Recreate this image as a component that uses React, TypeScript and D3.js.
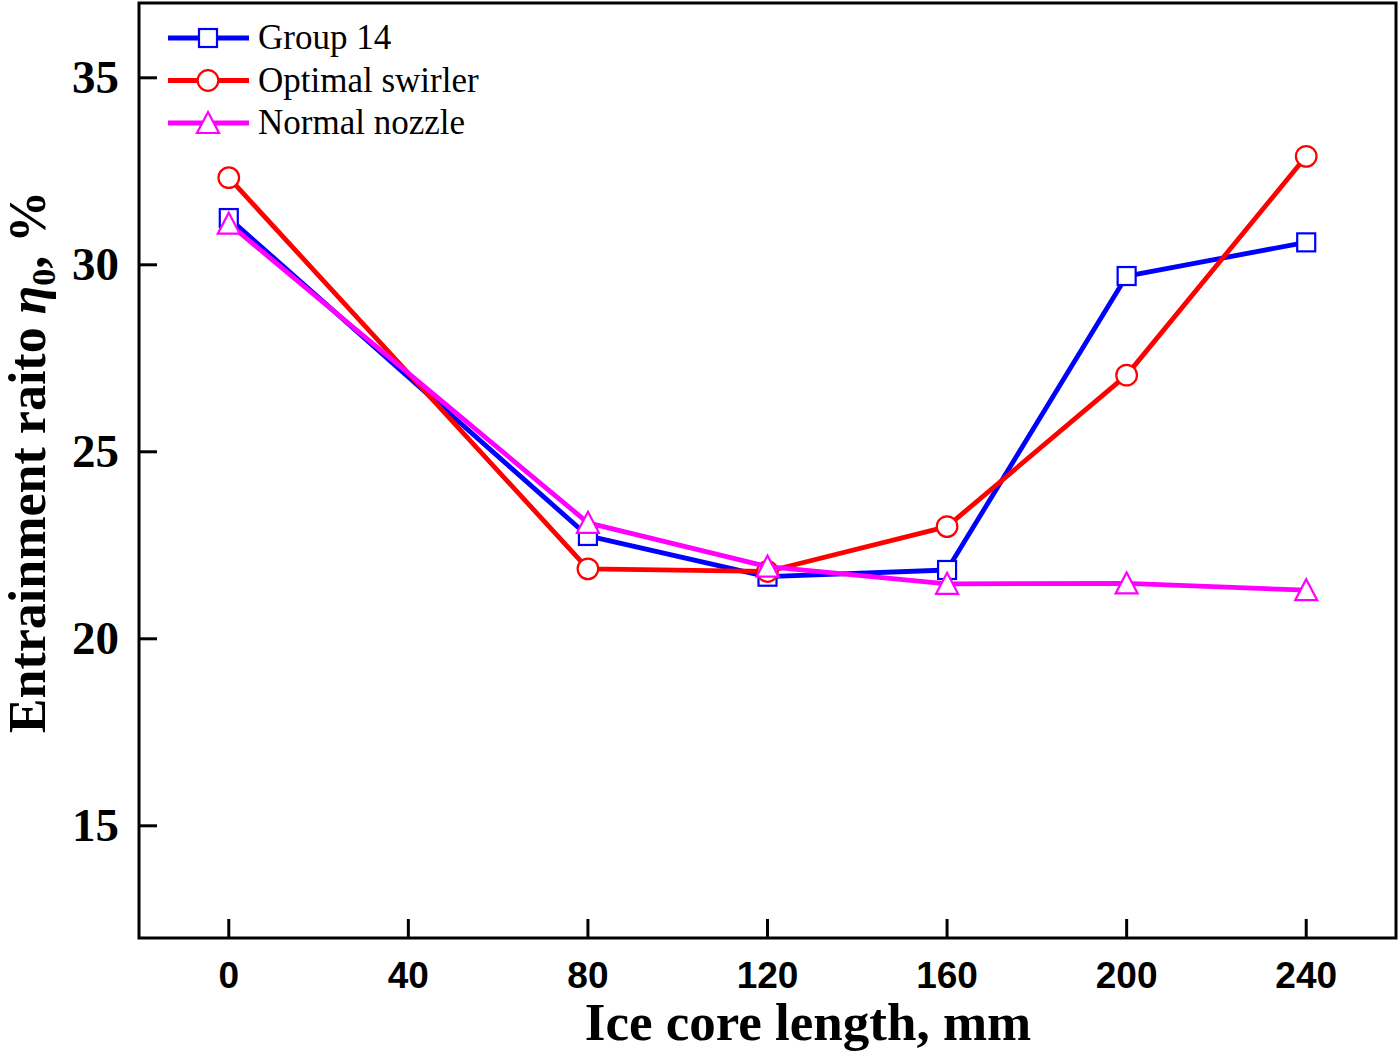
import React from "react"
import * as d3 from "d3"

// ice core length, mm
const lengths = [0, 80, 120, 160, 200, 240]

// entrainment ratio, %
const group14 = [31.25, 22.75, 21.66, 21.84, 29.7, 30.6]
const optimalSwirler = [32.33, 21.87, 21.8, 23.0, 27.05, 32.9]
const normalNozzle = [31.1, 23.1, 21.93, 21.47, 21.48, 21.3]

const xTicks = [0, 40, 80, 120, 160, 200, 240]
const yTicks = [15, 20, 25, 30, 35]

type Shape = "square" | "circle" | "triangle"

interface Series {
    name: string
    values: number[]
    color: string
    shape: Shape
}

const series: Series[] = [
    { name: "Group 14", values: group14, color: "#0000ff", shape: "square" },
    { name: "Optimal swirler", values: optimalSwirler, color: "#ff0000", shape: "circle" },
    { name: "Normal nozzle", values: normalNozzle, color: "#ff00ff", shape: "triangle" },
]

const W = 1400
const H = 1058
const left = 139
const right = 1396
const top = 3
const bottom = 938

const serif = "'Liberation Serif', 'Times New Roman', serif"
const sans = "'Liberation Sans', Arial, sans-serif"

const Marker = ({ shape, cx, cy, color }: { shape: Shape; cx: number; cy: number; color: string }) => {
    if (shape === "square") {
        return <rect x={cx - 9} y={cy - 9} width={18} height={18} fill="#fff" stroke={color} strokeWidth={2.2} />
    }
    if (shape === "circle") {
        return <circle cx={cx} cy={cy} r={10.3} fill="#fff" stroke={color} strokeWidth={2.2} />
    }
    const pts = [
        [cx, cy - 11],
        [cx + 11, cy + 10],
        [cx - 11, cy + 10],
    ]
    return <polygon points={pts.map((p) => p.join(",")).join(" ")} fill="#fff" stroke={color} strokeWidth={2.2} />
}

export default function App() {
    const x = d3.scaleLinear().domain([-20, 260]).range([left, right])
    const y = d3.scaleLinear().domain([12, 37]).range([bottom, top])

    const line = d3
        .line<number>()
        .x((_, i) => x(lengths[i]))
        .y((d) => y(d))

    return (
        <svg width={W} height={H} style={{ position: "absolute", left: 0, top: 0, background: "#fff" }}>
            {/* frame */}
            <rect x={left} y={top} width={right - left} height={bottom - top} fill="none" stroke="#000" strokeWidth={3} />

            {/* x ticks */}
            {xTicks.map((t) => (
                <g key={"x" + t}>
                    <line x1={x(t)} x2={x(t)} y1={bottom} y2={bottom - 19} stroke="#000" strokeWidth={3} />
                    <text x={x(t)} y={988} textAnchor="middle" fontFamily={sans} fontWeight="bold" fontSize={37}>
                        {t}
                    </text>
                </g>
            ))}

            {/* y ticks */}
            {yTicks.map((t) => (
                <g key={"y" + t}>
                    <line x1={left} x2={left + 18} y1={y(t)} y2={y(t)} stroke="#000" strokeWidth={3} />
                    <text x={119} y={y(t) + 15} textAnchor="end" fontFamily={serif} fontWeight="bold" fontSize={47}>
                        {t}
                    </text>
                </g>
            ))}

            {/* series */}
            {series.map((s) => (
                <g key={s.name}>
                    <path d={line(s.values) ?? ""} fill="none" stroke={s.color} strokeWidth={4.8} strokeLinejoin="round" />
                    {s.values.map((v, i) => (
                        <Marker key={i} shape={s.shape} cx={x(lengths[i])} cy={y(v)} color={s.color} />
                    ))}
                </g>
            ))}

            {/* legend */}
            {series.map((s, i) => {
                const ly = 38 + i * 42.5
                return (
                    <g key={"lg" + s.name}>
                        <line x1={168} x2={249} y1={ly} y2={ly} stroke={s.color} strokeWidth={4.8} />
                        <Marker shape={s.shape} cx={208} cy={ly} color={s.color} />
                        <text x={258} y={ly + 11} fontFamily={serif} fontSize={35}>
                            {s.name}
                        </text>
                    </g>
                )
            })}

            {/* axis titles */}
            <text x={808} y={1040} textAnchor="middle" fontFamily={serif} fontWeight="bold" fontSize={53}>
                Ice core length, mm
            </text>
            <text
                transform="translate(45,462) rotate(-90)"
                textAnchor="middle"
                fontFamily={serif}
                fontWeight="bold"
                fontSize={52}
            >
                Entrainment raito{" "}
                <tspan fontStyle="italic">η</tspan>
                <tspan fontSize={34} dy={10}>0</tspan>
                <tspan dy={-10}>, %</tspan>
            </text>
        </svg>
    )
}
